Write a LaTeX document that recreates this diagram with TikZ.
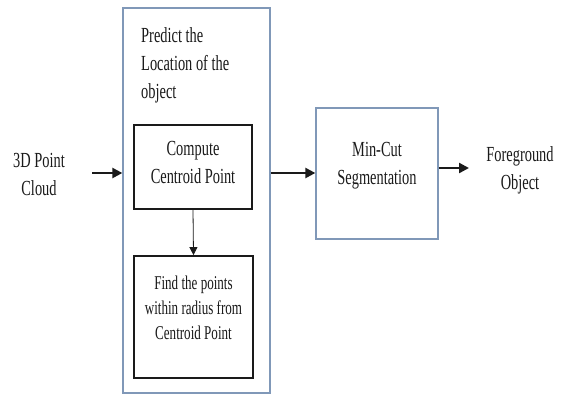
\documentclass[tikz,border=0pt]{standalone}
\usepackage{fontspec}
\setmainfont{Liberation Serif}[FakeStretch=0.67]
\usetikzlibrary{arrows.meta}
\definecolor{frameblue}{HTML}{8098B8}
\definecolor{ink}{HTML}{1A1A1A}
\tikzset{
  bluebox/.style={draw=frameblue, line width=1.3pt, minimum width=#1, inner sep=0pt},
  blackbox/.style={draw=ink, line width=1.8pt, inner sep=0pt},
  txt/.style={text=ink, font=\fontsize{21.5}{28}\selectfont, align=center, inner sep=0pt},
  smalltxt/.style={text=ink, font=\fontsize{19.5}{25}\selectfont, align=center, inner sep=0pt},
  bigarrow/.style={draw=ink, line width=2.3pt, -{Triangle[length=10pt,width=10pt]}},
  thinarrow/.style={draw=ink, line width=0.8pt, -{Triangle[length=8pt,width=8pt]}}
}
\begin{document}
\begin{tikzpicture}[x=1pt,y=-1pt]
\useasboundingbox (0,0) rectangle (564,394);
\fill[white] (0,0) rectangle (564,394);
% outer box
\node[bluebox=147pt, minimum height=385pt] (outer) at (196.5,200.5) {};
\node[txt, align=left, anchor=west] (predict) at (141,65) {Predict the\\Location of the\\object};
% compute box
\node[blackbox, minimum width=118pt, minimum height=84pt] (compute) at (193,167) {};
\node[txt] (computetxt) at (193,162) {Compute\\Centroid Point};
% find box
\node[blackbox, minimum width=119pt, minimum height=122pt] (find) at (193.5,317) {};
\node[smalltxt] (findtxt) at (193.5,308) {Find the points\\within radius from\\Centroid Point};
% min-cut box
\node[bluebox=122pt, minimum height=131pt] (mincut) at (377,173.5) {};
\node[txt] (mincuttxt) at (377,166) {Min-Cut\\Segmentation};
% inputs / outputs
\node[txt] (cloud) at (39,174) {3D Point\\Cloud};
\node[txt] (fg) at (520,170) {Foreground\\Object};
\coordinate (inStart) at (92,173);
\coordinate (fgEnd) at (469,168);
% arrows
\draw[bigarrow] (inStart) -- (outer.west |- inStart);
\draw[bigarrow] (outer.east |- inStart) -- (mincut.west |- inStart);
\draw[bigarrow] (mincut.east |- fgEnd) -- (fgEnd);
\draw[thinarrow] (compute.south) -- (find.north);
\end{tikzpicture}
\end{document}
